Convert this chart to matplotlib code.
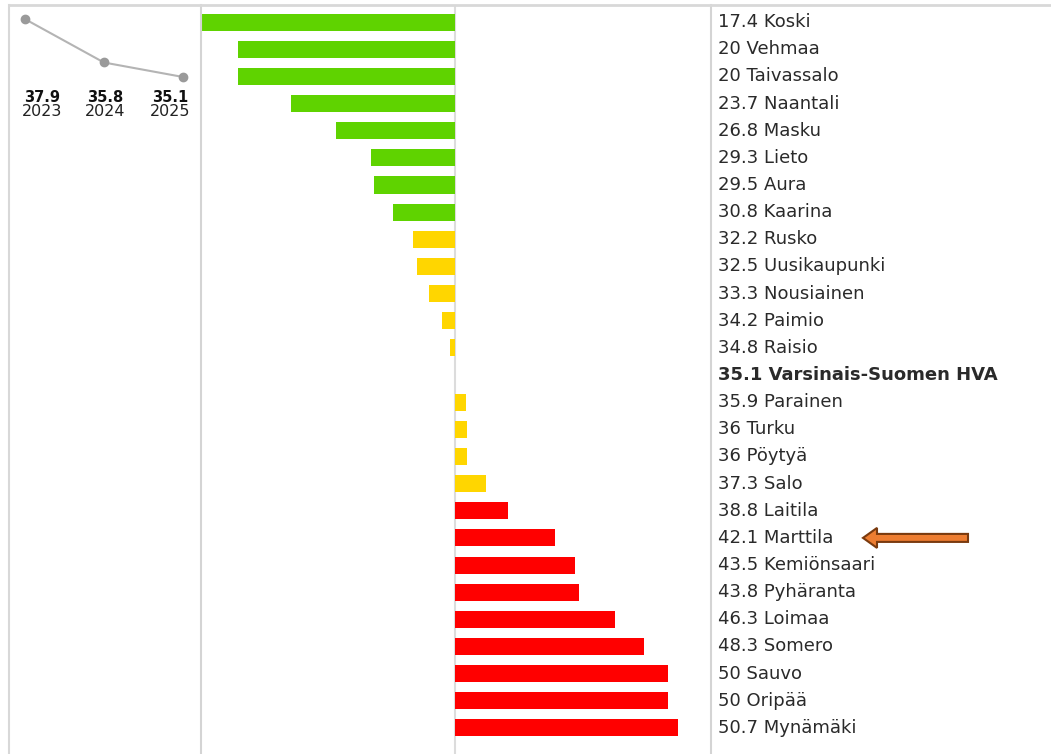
import matplotlib
matplotlib.use("Agg")
import matplotlib.pyplot as plt
from matplotlib.patches import FancyArrow
from matplotlib.lines import Line2D

# ---- data ----
municipalities = ["Koski", "Vehmaa", "Taivassalo", "Naantali", "Masku", "Lieto", "Aura",
                  "Kaarina", "Rusko", "Uusikaupunki", "Nousiainen", "Paimio", "Raisio",
                  "Varsinais-Suomen HVA", "Parainen", "Turku", "Pöytyä", "Salo", "Laitila",
                  "Marttila", "Kemiönsaari", "Pyhäranta", "Loimaa", "Somero", "Sauvo",
                  "Oripää", "Mynämäki"]
values = [17.4, 20, 20, 23.7, 26.8, 29.3, 29.5, 30.8, 32.2, 32.5, 33.3, 34.2, 34.8,
          35.1, 35.9, 36, 36, 37.3, 38.8, 42.1, 43.5, 43.8, 46.3, 48.3, 50, 50, 50.7]
reference_value = 35.1
highlight = "Varsinais-Suomen HVA"
arrow_target = "Marttila"

trend_years = ["2023", "2024", "2025"]
trend_values = [37.9, 35.8, 35.1]

GREEN, YELLOW, RED = "#5fd300", "#ffd600", "#ff0000"


def colour(v):
    if v < 31:
        return GREEN
    if v < 38:
        return YELLOW
    return RED


W, H = 1051, 754
fig = plt.figure(figsize=(W / 100, H / 100), dpi=100)
fig.patch.set_facecolor("white")

# main bar axes
ax = fig.add_axes([201 / W, 0, (711 - 201) / W, (H - 5) / H])
n = len(values)
ypos = list(range(n))
ax.barh(ypos, [v - reference_value for v in values], left=reference_value,
        height=0.63, color=[colour(v) for v in values], zorder=2)
ax.axvline(reference_value, color="#dcdcdc", lw=1.5, zorder=1)
ax.set_xlim(17.4, 53.0)
ax.set_ylim(n - 1 + 0.96, -0.63)
ax.set_xticks([])
ax.set_yticks([])
for s in ["top", "bottom"]:
    ax.spines[s].set_visible(False)
for s in ["left", "right"]:
    ax.spines[s].set_color("#d4d4d4")
    ax.spines[s].set_linewidth(1.5)

for i, (name, v) in enumerate(zip(municipalities, values)):
    bold = name == highlight
    ax.annotate(f"{v:g} {name}", xy=(1, i), xycoords=("axes fraction", "data"),
                xytext=(7, 0), textcoords="offset pixels", va="center", ha="left",
                fontsize=13, color="#2a2a2a",
                fontweight="bold" if bold else "normal", family="DejaVu Sans")

# overlay in pixel coordinates for frame lines and arrow
ov = fig.add_axes([0, 0, 1, 1], zorder=5)
ov.set_xlim(0, W)
ov.set_ylim(H, 0)
ov.axis("off")
ov.add_line(Line2D([9, W], [5, 5], color="#d8d8d8", lw=2))
ov.add_line(Line2D([9, 9], [5, H], color="#d8d8d8", lw=1.5))

ia = municipalities.index(arrow_target)
ydisp = ax.transData.transform((reference_value, ia))[1]
ypix = H - ydisp
ov.add_patch(FancyArrow(968, ypix, -105, 0, width=8, head_width=20, head_length=14,
                        length_includes_head=True, fc="#ED7D31", ec="#7a3a0e", lw=1.5))

# mini trend chart
mx = fig.add_axes([9 / W, (H - 130) / H, (200 - 9) / W, 125 / H])
xs = list(range(len(trend_values)))
mx.plot(xs, trend_values, color="#b4b4b4", lw=1.5, marker="o", markersize=6,
        markerfacecolor="#9a9a9a", markeredgecolor="#9a9a9a")
mx.set_xlim(-0.2, 2.215)
mx.set_ylim(32.54, 38.576)
mx.axis("off")
label_x = [42, 105, 170]  # pixel centres of the labels
for lx, yv, yr in zip(label_x, trend_values, trend_years):
    ov.text(lx, 97, f"{yv:g}", ha="center", va="center", fontsize=10.5,
            fontweight="bold", color="#111111")
    ov.text(lx, 112, yr, ha="center", va="center", fontsize=11.5, color="#222222")

fig.savefig("out.png", dpi=100)
